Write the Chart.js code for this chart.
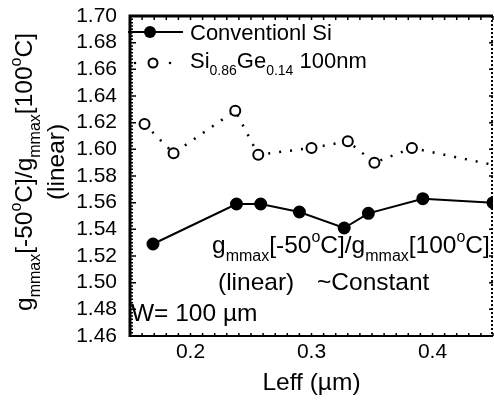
<!DOCTYPE html>
<html>
<head>
<meta charset="utf-8">
<script src="https://cdn.jsdelivr.net/npm/chart.js@4/dist/chart.umd.min.js"></script>
<style>
body { margin: 0; background: #fff; }
#wrap { width: 494px; height: 405px; }
</style>
</head>
<body>
<div id="wrap"><canvas id="chart" width="494" height="405"></canvas></div>
<script>
// values
var siLeff = [0.169, 0.238, 0.258, 0.290, 0.327, 0.347, 0.392, 0.450];
var siRatio = [1.529, 1.559, 1.559, 1.553, 1.541, 1.552, 1.563, 1.560];
var sigeLeff = [0.162, 0.186, 0.237, 0.256, 0.300, 0.330, 0.352, 0.383, 0.460];
var sigeRatio = [1.619, 1.597, 1.629, 1.596, 1.601, 1.606, 1.590, 1.601, 1.5865];
var xTickVals = [0.2, 0.3, 0.4];
var yTickVals = [1.46, 1.48, 1.50, 1.52, 1.54, 1.56, 1.58, 1.60, 1.62, 1.64, 1.66, 1.68, 1.70];

var FONT = '"Liberation Sans", Arial, Helvetica, sans-serif';

// text with sub/superscripts: parts = [text, 'n' | 'sub' | 'sup']
function drawRich(ctx, parts, x, y, size, align) {
    var small = Math.round(size * 0.65);
    var w = 0;
    parts.forEach(function (p) {
        ctx.font = (p[1] == 'n' ? size : small) + 'px ' + FONT;
        w += ctx.measureText(p[0]).width;
    });
    var cx = align == 'center' ? x - w / 2 : x;
    ctx.textAlign = 'left';
    ctx.textBaseline = 'alphabetic';
    parts.forEach(function (p) {
        ctx.font = (p[1] == 'n' ? size : small) + 'px ' + FONT;
        var dy = p[1] == 'sub' ? size * 0.33 : (p[1] == 'sup' ? -size * 0.45 : 0);
        ctx.fillText(p[0], cx, y + dy);
        cx += ctx.measureText(p[0]).width;
    });
}

var ratioText = [['g', 'n'], ['mmax', 'sub'], ['[-50', 'n'], ['o', 'sup'], ['C]/g', 'n'],
                 ['mmax', 'sub'], ['[100', 'n'], ['o', 'sup'], ['C]', 'n']];
var sigeText = [['Si', 'n'], ['0.86', 'sub'], ['Ge', 'n'], ['0.14', 'sub'], [' 100nm', 'n']];

var framePlugin = {
    id: 'frame',
    afterDraw: function (chart) {
        var ctx = chart.ctx;
        var a = chart.chartArea;
        var xs = chart.scales.x, ys = chart.scales.y;
        ctx.save();
        ctx.strokeStyle = '#000';
        ctx.fillStyle = '#000';

        // box
        ctx.lineWidth = 3;
        ctx.beginPath();
        ctx.moveTo(a.left, a.bottom + 1);
        ctx.lineTo(a.left, a.top);
        ctx.lineTo(a.right, a.top);
        ctx.stroke();
        ctx.lineWidth = 2;
        ctx.beginPath();
        ctx.moveTo(a.left, a.bottom);
        ctx.lineTo(a.right, a.bottom);
        ctx.stroke();
        ctx.setLineDash([2, 2]);
        ctx.beginPath();
        ctx.moveTo(a.right - 1, a.top);
        ctx.lineTo(a.right - 1, a.bottom);
        ctx.stroke();
        ctx.setLineDash([]);

        // inward ticks
        ctx.lineWidth = 1.5;
        ctx.beginPath();
        for (var i = 0; i <= 30; i++) {
            var px = xs.getPixelForValue(xs.min + i * 0.01);
            ctx.moveTo(px, a.bottom); ctx.lineTo(px, a.bottom - 3);
            ctx.moveTo(px, a.top); ctx.lineTo(px, a.top + 4);
        }
        for (var j = 0; j <= 96; j++) {
            var py = ys.getPixelForValue(ys.min + j * 0.0025);
            var len = (j % 8 == 0) ? 6 : 3;
            ctx.moveTo(a.left, py); ctx.lineTo(a.left + len, py);
        }
        yTickVals.forEach(function (v) {
            var py = ys.getPixelForValue(v);
            ctx.moveTo(a.right, py); ctx.lineTo(a.right - 4, py);
        });
        ctx.stroke();

        // legend
        var si = chart.getDatasetMeta(0).dataset.options;
        ctx.lineWidth = si.borderWidth;
        ctx.beginPath();
        ctx.moveTo(128, 32); ctx.lineTo(183, 32);
        ctx.stroke();
        ctx.beginPath();
        ctx.arc(150, 32, 6, 0, Math.PI * 2);
        ctx.fill();
        ctx.beginPath();
        ctx.arc(135, 63, 1.3, 0, Math.PI * 2);
        ctx.arc(170, 63, 1.3, 0, Math.PI * 2);
        ctx.fill();
        ctx.lineWidth = 2;
        ctx.beginPath();
        ctx.arc(153, 63, 4.5, 0, Math.PI * 2);
        ctx.fillStyle = '#fff';
        ctx.fill();
        ctx.stroke();
        ctx.fillStyle = '#000';
        ctx.font = '22px ' + FONT;
        ctx.textAlign = 'left';
        ctx.textBaseline = 'alphabetic';
        ctx.fillText('Conventionl Si', 190, 40);
        drawRich(ctx, sigeText, 190, 68, 22, 'left');

        // annotations
        drawRich(ctx, ratioText, 212, 253, 24.5, 'left');
        ctx.font = '24.5px ' + FONT;
        ctx.fillText('(linear)', 218, 290);
        ctx.fillText('~Constant', 317, 290);
        ctx.fillText('W= 100 \u00b5m', 131, 321);

        // axis titles
        ctx.textAlign = 'center';
        ctx.fillText('Leff (\u00b5m)', (a.left + a.right) / 2, 390);
        ctx.save();
        ctx.translate(32, 172);
        ctx.rotate(-Math.PI / 2);
        drawRich(ctx, ratioText, 0, 0, 24.5, 'center');
        ctx.restore();
        ctx.save();
        ctx.translate(64, 162);
        ctx.rotate(-Math.PI / 2);
        ctx.font = '24.5px ' + FONT;
        ctx.textAlign = 'center';
        ctx.fillText('(linear)', 0, 0);
        ctx.restore();

        ctx.restore();
    }
};

new Chart(document.getElementById('chart'), {
    type: 'scatter',
    data: {
        datasets: [
            {
                label: 'Conventionl Si',
                data: siLeff.map(function (x, i) { return { x: x, y: siRatio[i] }; }),
                showLine: true,
                borderColor: '#000',
                borderWidth: 2,
                pointRadius: 5.5,
                pointBackgroundColor: '#000',
                pointBorderColor: '#000',
                clip: 0
            },
            {
                label: 'Si0.86Ge0.14 100nm',
                data: sigeLeff.map(function (x, i) { return { x: x, y: sigeRatio[i] }; }),
                showLine: true,
                borderColor: '#000',
                borderWidth: 2.5,
                borderDash: [2, 9],
                pointRadius: 5,
                pointBorderWidth: 2,
                pointBackgroundColor: '#fff',
                pointBorderColor: '#000',
                clip: 0
            }
        ]
    },
    options: {
        responsive: false,
        animation: false,
        layout: { autoPadding: false, padding: { top: 16, right: 1, left: 0, bottom: 0 } },
        plugins: {
            legend: { display: false },
            tooltip: { enabled: false }
        },
        scales: {
            x: {
                type: 'linear',
                min: 0.15,
                max: 0.45,
                grid: { display: false, drawTicks: false },
                border: { display: false },
                ticks: {
                    color: '#000',
                    padding: 4,
                    autoSkip: false,
                    maxRotation: 0,
                    font: { size: 21, family: FONT },
                    callback: function (v) { return v.toFixed(1); }
                },
                afterBuildTicks: function (s) { s.ticks = xTickVals.map(function (v) { return { value: v }; }); },
                afterFit: function (s) {
                    s.height = 69;
                    s.paddingLeft = 0; s.paddingRight = 0; s.paddingTop = 0; s.paddingBottom = 0;
                }
            },
            y: {
                min: 1.46,
                max: 1.70,
                grid: { display: false, drawTicks: false },
                border: { display: false },
                ticks: {
                    color: '#000',
                    padding: 13,
                    autoSkip: false,
                    font: { size: 21, family: FONT },
                    callback: function (v) { return v.toFixed(2); }
                },
                afterBuildTicks: function (s) { s.ticks = yTickVals.map(function (v) { return { value: v }; }); },
                afterFit: function (s) {
                    s.width = 130;
                    s.paddingLeft = 0; s.paddingRight = 0; s.paddingTop = 0; s.paddingBottom = 0;
                }
            }
        }
    },
    plugins: [framePlugin]
});
</script>
</body>
</html>
